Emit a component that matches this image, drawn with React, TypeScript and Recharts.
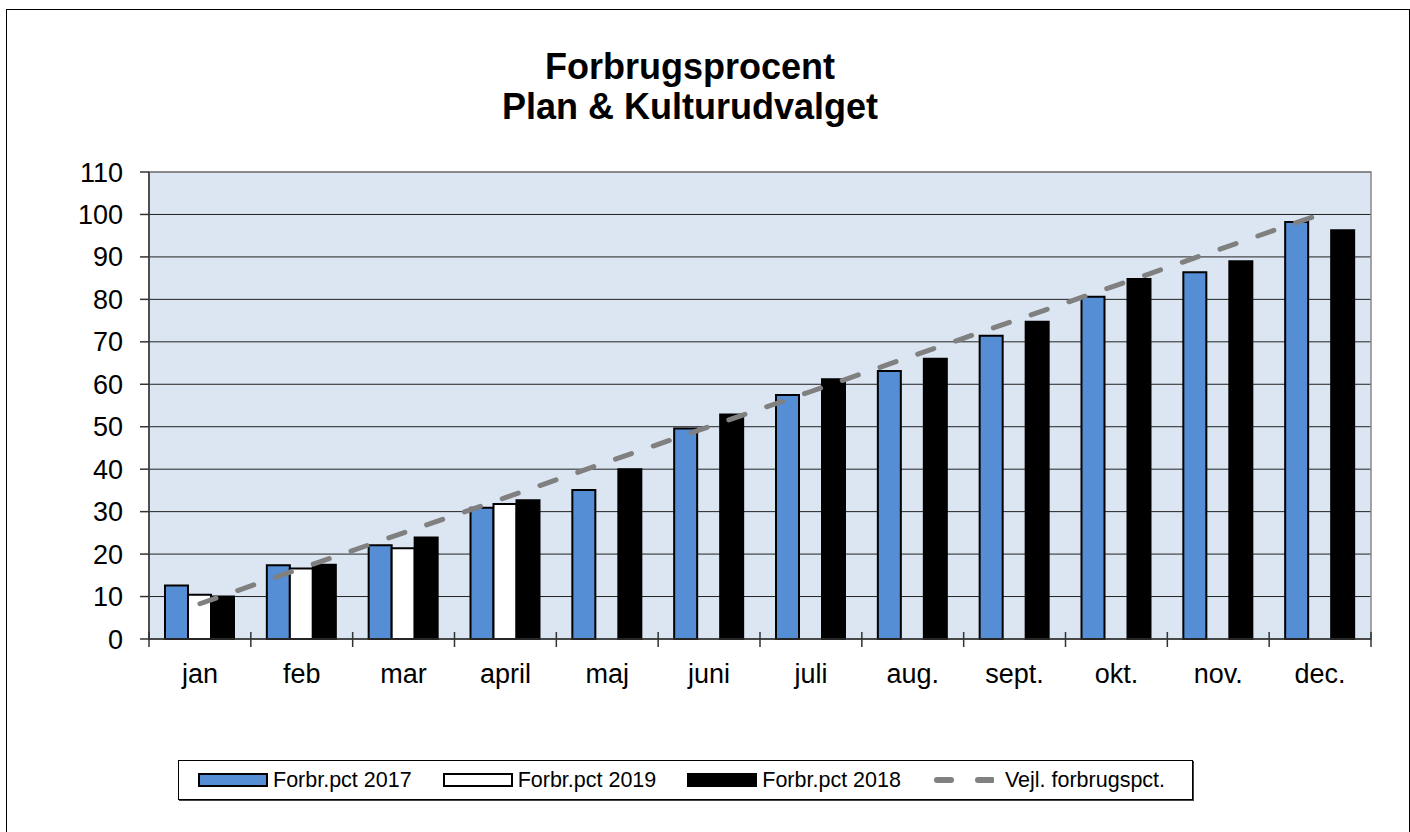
import React from 'react';
import { BarChart, Bar, Line, XAxis, YAxis, CartesianGrid, ReferenceArea } from 'recharts';

const months = ['jan', 'feb', 'mar', 'april', 'maj', 'juni', 'juli', 'aug.', 'sept.', 'okt.', 'nov.', 'dec.'];
const pct2017 = [12.6, 17.4, 22.1, 30.9, 35.1, 49.6, 57.5, 63.1, 71.4, 80.6, 86.4, 98.2];
const pct2019 = [10.4, 16.6, 21.4, 31.8, null, null, null, null, null, null, null, null];
const pct2018 = [10.0, 17.5, 23.9, 32.7, 40.0, 52.9, 61.2, 66.0, 74.7, 84.8, 89.0, 96.3];
const guide = [8.3, 16.7, 25, 33.3, 41.7, 50, 58.3, 66.7, 75, 83.3, 91.7, 100];
const yTicks = [0, 10, 20, 30, 40, 50, 60, 70, 80, 90, 100, 110];

const data = months.map((m, i) => ({
  month: m,
  f2017: pct2017[i],
  f2019: pct2019[i],
  f2018: pct2018[i],
  vejl: guide[i],
}));

const FONT = '"Liberation Sans", Arial, sans-serif';
const CHART_W = 1400;
const CHART_H = 700;
const Y_W = 142;
const M_RIGHT = 36;
const band = (CHART_W - Y_W - M_RIGHT) / months.length;

const MonthTick = (props: any) => {
  const { x, y, payload, index } = props;
  const half = band / 2;
  return (
    <g>
      <line x1={x - half} x2={x - half} y1={y - 7} y2={y + 8} stroke="#333" strokeWidth={1.5} />
      {index === months.length - 1 && (
        <line x1={x + half} x2={x + half} y1={y - 7} y2={y + 8} stroke="#333" strokeWidth={1.5} />
      )}
      <text x={x} y={y + 44} textAnchor="middle" fontSize={27} fontFamily={FONT} fill="#000">
        {payload.value}
      </text>
    </g>
  );
};

const legendItems = [
  { label: 'Forbr.pct 2017', kind: 'bar', fill: '#558ED5' },
  { label: 'Forbr.pct 2019', kind: 'bar', fill: '#FFFFFF' },
  { label: 'Forbr.pct 2018', kind: 'bar', fill: '#000000' },
  { label: 'Vejl. forbrugspct.', kind: 'line', fill: '#808080' },
];

const App = () => (
  <div
    style={{
      position: 'fixed',
      left: 6,
      top: 9,
      width: 1404,
      height: 830,
      border: '1px solid #000',
      boxSizing: 'border-box',
      background: '#fff',
      fontFamily: FONT,
    }}
  >
    <div
      style={{
        position: 'absolute',
        top: 37,
        left: 0,
        width: 1366,
        textAlign: 'center',
        fontWeight: 'bold',
        fontSize: 36,
        lineHeight: '40px',
        color: '#000',
      }}
    >
      Forbrugsprocent
      <br />
      Plan &amp; Kulturudvalget
    </div>

    <div style={{ position: 'absolute', left: 0, top: 0 }}>
      <BarChart
        width={CHART_W}
        height={CHART_H}
        data={data}
        margin={{ top: 162, right: M_RIGHT, left: 0, bottom: 11 }}
        barCategoryGap={16}
        barGap={0}
      >
        <CartesianGrid vertical={false} stroke="#222" fill="#DCE6F2" fillOpacity={1} />
        <ReferenceArea y1={0} y2={110} stroke="#888" strokeWidth={1.5} fill="none" fillOpacity={0} />
        <XAxis
          dataKey="month"
          height={60}
          tickSize={0}
          tickMargin={0}
          tickLine={false}
          axisLine={{ stroke: '#333', strokeWidth: 1.5 }}
          tick={<MonthTick />}
          interval={0}
        />
        <YAxis
          width={Y_W}
          domain={[0, 110]}
          ticks={yTicks}
          interval={0}
          tickSize={9}
          tickMargin={17}
          tick={{ fontSize: 27, fill: '#000', fontFamily: FONT }}
          tickLine={{ stroke: '#333', strokeWidth: 1.5 }}
          axisLine={{ stroke: '#333', strokeWidth: 1.5 }}
        />
        <Bar dataKey="f2017" name="Forbr.pct 2017" fill="#558ED5" stroke="#000" strokeWidth={2} isAnimationActive={false} />
        <Bar dataKey="f2019" name="Forbr.pct 2019" fill="#FFFFFF" stroke="#000" strokeWidth={2} isAnimationActive={false} />
        <Bar dataKey="f2018" name="Forbr.pct 2018" fill="#000000" stroke="#000" strokeWidth={2} isAnimationActive={false} />
        <Line
          type="linear"
          dataKey="vejl"
          name="Vejl. forbrugspct."
          stroke="#808080"
          strokeWidth={5}
          strokeDasharray="17 23"
          strokeLinecap="round"
          dot={false}
          activeDot={false}
          isAnimationActive={false}
        />
      </BarChart>
    </div>

    <div
      style={{
        position: 'absolute',
        left: 171,
        top: 750,
        width: 1015,
        height: 40,
        border: '1px solid #000',
        boxShadow: '1px 1px 0 #444',
        boxSizing: 'border-box',
        display: 'flex',
        alignItems: 'center',
        paddingLeft: 19,
        fontSize: 21.5,
        color: '#000',
        whiteSpace: 'nowrap',
      }}
    >
      {legendItems.map((it) => (
        <div key={it.label} style={{ display: 'flex', alignItems: 'center', marginRight: 31, flexShrink: 0 }}>
          {it.kind === 'bar' ? (
            <div
              style={{
                width: 70,
                height: 14,
                background: it.fill,
                border: '2px solid #000',
                boxSizing: 'border-box',
                marginRight: 5,
                flexShrink: 0,
              }}
            />
          ) : (
            <svg width={62} height={12} style={{ marginRight: 11, flexShrink: 0 }}>
              <line
                x1={5}
                x2={60}
                y1={6}
                y2={6}
                stroke={it.fill}
                strokeWidth={6}
                strokeLinecap="round"
                strokeDasharray="14 27"
              />
            </svg>
          )}
          <span>{it.label}</span>
        </div>
      ))}
    </div>
  </div>
);

export default App;
